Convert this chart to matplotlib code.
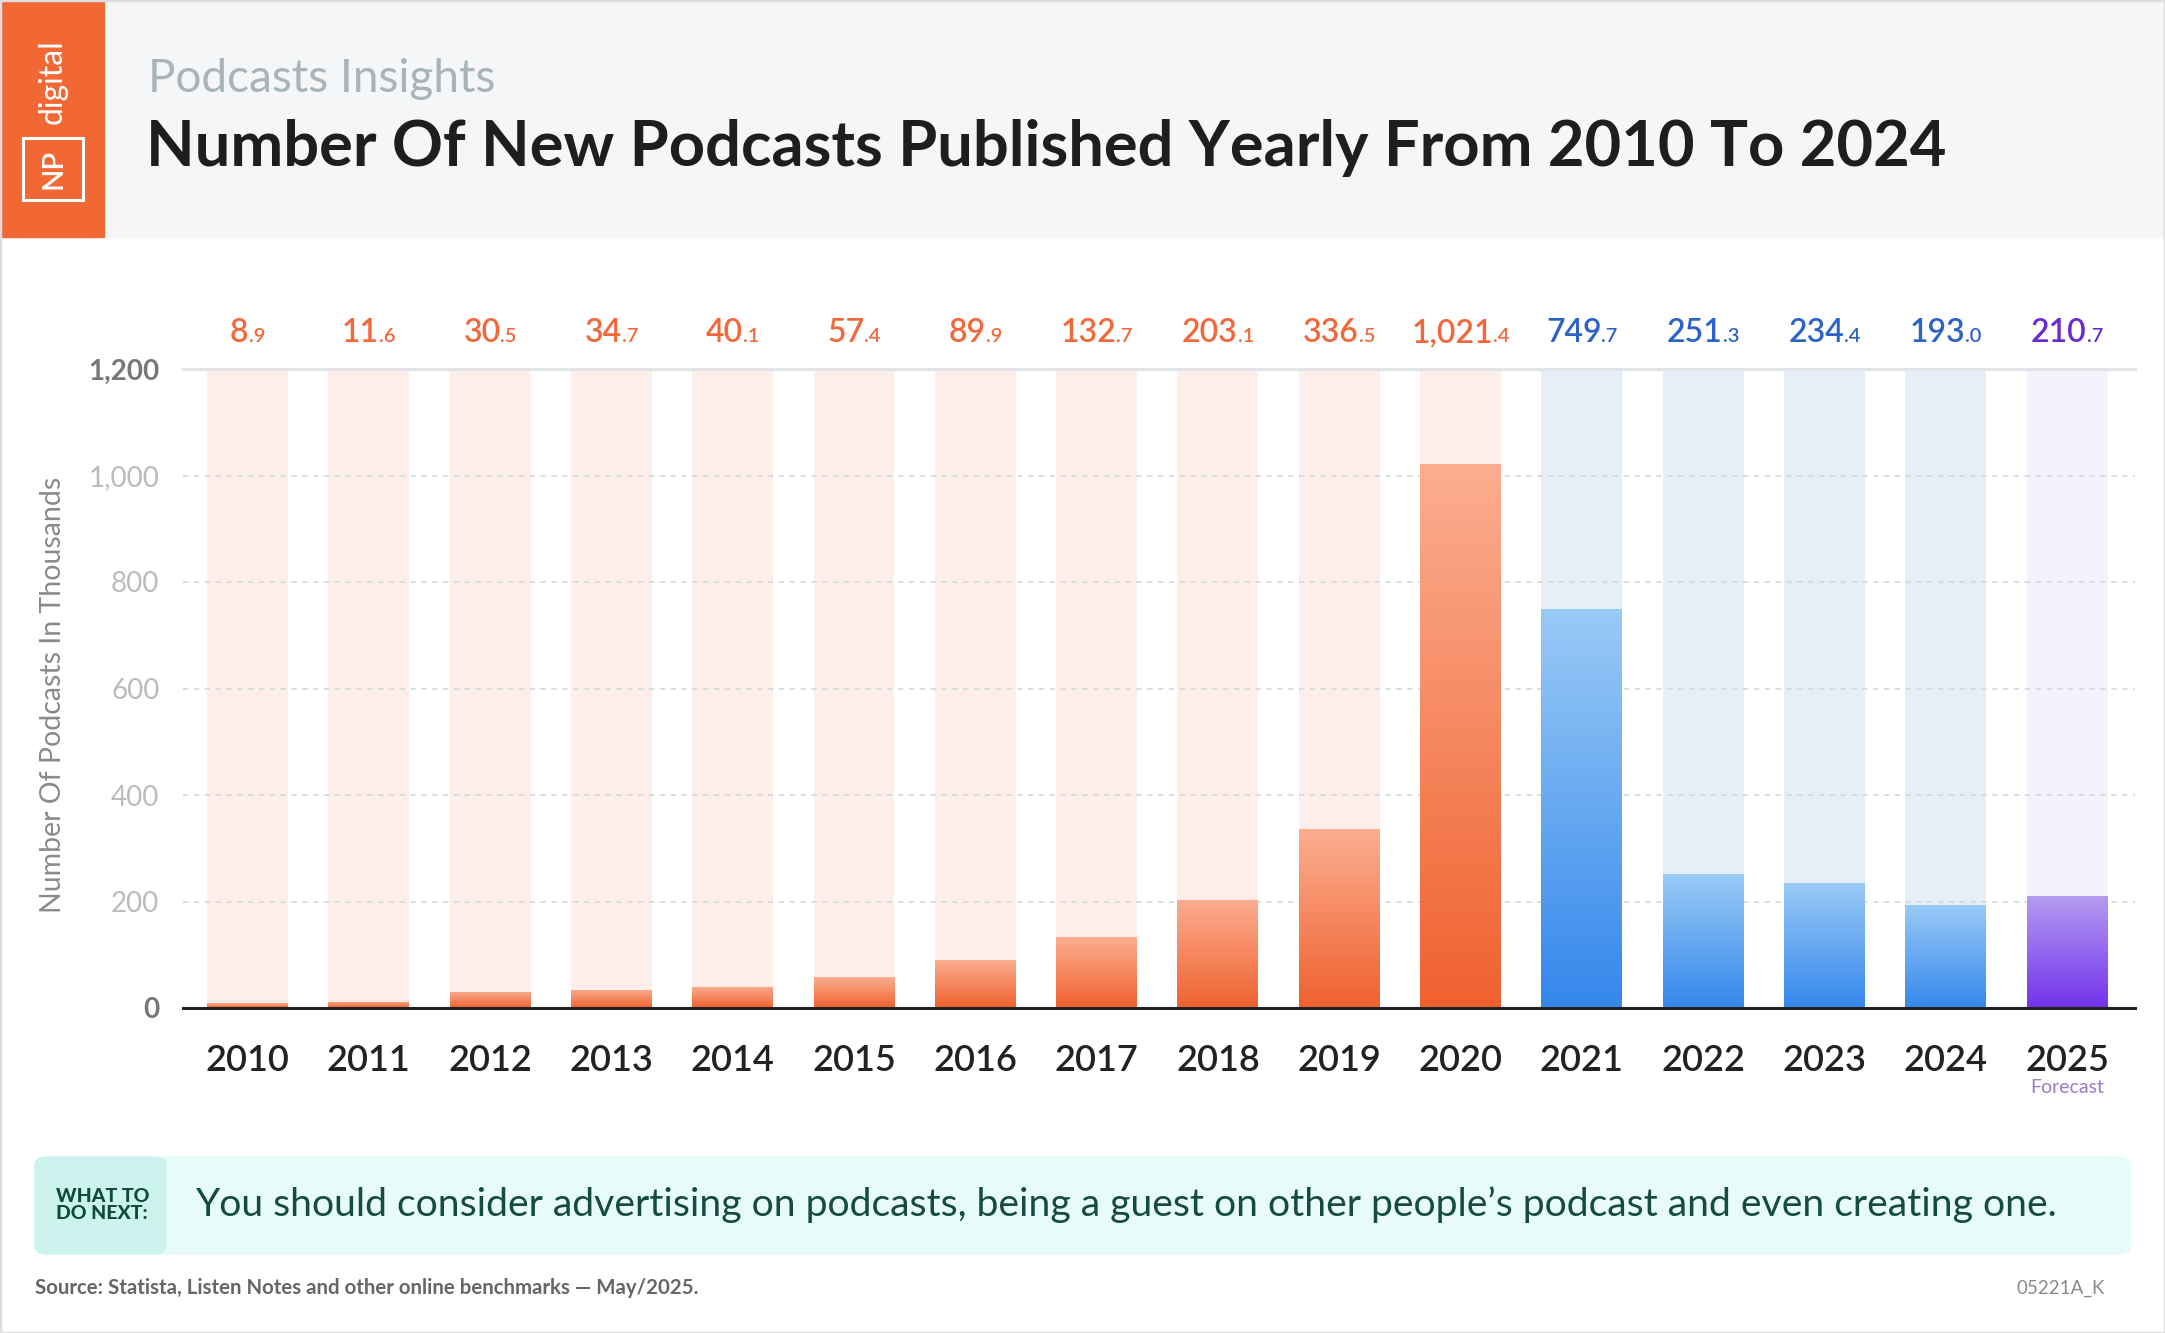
import numpy as np
import matplotlib
matplotlib.use("Agg")
import matplotlib.pyplot as plt
from matplotlib.patches import Rectangle, FancyBboxPatch
from matplotlib.colors import to_rgb
import matplotlib.transforms as mtransforms

plt.rcParams['font.family'] = ['Lato', 'DejaVu Sans']

# data
years = ['2010', '2011', '2012', '2013', '2014', '2015', '2016', '2017',
         '2018', '2019', '2020', '2021', '2022', '2023', '2024', '2025']
podcasts = [8.9, 11.6, 30.5, 34.7, 40.1, 57.4, 89.9, 132.7,
            203.1, 336.5, 1021.4, 749.7, 251.3, 234.4, 193.0, 210.7]
group = ['o'] * 11 + ['b'] * 4 + ['p']
yticks = [0, 200, 400, 600, 800, 1000, 1200]

# colours per group: (background, gradient top, gradient bottom, label)
palette = {
    'o': ('#FDEEEA', '#FBAE90', '#F0612F', '#F2683A'),
    'b': ('#E6EEF8', '#9ACAF6', '#3487EC', '#2B63C8'),
    'p': ('#F4F2FD', '#B59CF1', '#7233EC', '#6A2BD2'),
}

W, H = 2165, 1333
fig = plt.figure(figsize=(W / 100, H / 100), dpi=100)
fig.patch.set_facecolor('white')


def fx(x):
    return x / W


def fy(y):
    return 1 - y / H


# header
fig.patches.append(Rectangle((0, fy(237)), 1, 237 / H, transform=fig.transFigure,
                             color='#F5F6F8', zorder=0))
fig.patches.append(Rectangle((0, fy(237)), fx(104), 237 / H, transform=fig.transFigure,
                             color='#F26835', zorder=1))
fig.patches.append(Rectangle((fx(23), fy(200)), fx(60), 62 / H, transform=fig.transFigure,
                             fill=False, ec='white', lw=2.2, zorder=2))
fig.text(fx(54), fy(169), 'NP', rotation=90, color='white', fontsize=21,
         ha='center', va='center', fontweight='semibold')
fig.text(fx(53), fy(82), 'digital', rotation=90, color='white', fontsize=23,
         ha='center', va='center')
fig.text(fx(148), fy(79), 'Podcasts Insights', color='#A9B4B8', fontsize=33,
         ha='left', va='center')
fig.text(fx(146), fy(148), 'Number Of New Podcasts Published Yearly From 2010 To 2024',
         color='#1E1E1E', fontsize=45.5, ha='left', va='center', fontweight='bold')

# chart
ax = fig.add_axes([fx(183), fy(1008), fx(2135 - 183), (1008 - 369) / H])
x = np.arange(len(years))
bw = 0.667
ymax = yticks[-1]

bg = [palette[g][0] for g in group]
ax.bar(x, [ymax] * len(x), width=bw, color=bg, zorder=1)

bars = ax.bar(x, podcasts, width=bw, color='none', zorder=3)
for b, g in zip(bars, group):
    top = np.array(to_rgb(palette[g][1]))
    bot = np.array(to_rgb(palette[g][2]))
    t = np.linspace(0, 1, 256)[:, None, None]
    grad = top * (1 - t) + bot * t
    x0 = b.get_x()
    im = ax.imshow(grad, extent=(x0, x0 + b.get_width(), 0, b.get_height()),
                   aspect='auto', origin='upper', zorder=3, interpolation='bilinear')
    im.set_clip_path(b)

ax.set_xlim(-0.532, 15.56)
ax.set_ylim(0, ymax)

for s in ['top', 'right', 'left']:
    ax.spines[s].set_visible(False)
ax.spines['bottom'].set_color('#222222')
ax.spines['bottom'].set_linewidth(2.2)
ax.spines['bottom'].set_zorder(5)

for v in yticks[1:-1]:
    ax.axhline(v, color='#D5DCDD', lw=1.3, ls=(0, (3, 3)), zorder=2)
ax.axhline(ymax, color='#E2E5E8', lw=2.2, zorder=2, clip_on=False)

ax.set_yticks(yticks)
ax.set_yticklabels([f'{v:,}' for v in yticks], fontsize=20)
ax.tick_params(axis='y', length=0, pad=17)
for lab, v in zip(ax.get_yticklabels(), yticks):
    if v in (0, ymax):
        lab.set_color('#777777')
        lab.set_fontweight('bold')
    else:
        lab.set_color('#BBBBBB')

ax.set_xticks(x)
ax.set_xticklabels(years, fontsize=26, color='#222222', fontweight='semibold')
ax.tick_params(axis='x', length=0, pad=26)
ax.text(x[-1], -0.124, 'Forecast', transform=ax.get_xaxis_transform(),
        ha='center', va='center', fontsize=14, color='#9B7CC6')

ax.set_ylabel('Number Of Podcasts In Thousands', fontsize=20.5, color='#8A8A8A',
              va='center')
ax.yaxis.set_label_coords(-0.0665, 0.49)

# value labels: whole part large, decimal part small
renderer = fig.canvas.get_renderer()
base = ax.get_xaxis_transform()
for xi, v, g in zip(x, podcasts, group):
    whole, dec = f'{v:,.1f}'.split('.')
    c = palette[g][3]
    t1 = ax.text(xi, 1.042, whole, transform=base, ha='left', va='baseline',
                 fontsize=23, color=c, fontweight='semibold')
    t2 = ax.text(xi, 1.042, '.' + dec, transform=base, ha='left', va='baseline',
                 fontsize=14.5, color=c, fontweight='semibold')
    w1 = t1.get_window_extent(renderer).width
    w2 = t2.get_window_extent(renderer).width
    t1.set_transform(mtransforms.offset_copy(base, fig, x=-(w1 + w2) / 2, units='dots'))
    t2.set_transform(mtransforms.offset_copy(base, fig, x=-(w1 + w2) / 2 + w1, units='dots'))

# what to do next box
fig.patches.append(FancyBboxPatch((fx(35), fy(1254)), fx(2130 - 35), (1254 - 1157) / H,
                                  boxstyle='round,pad=0,rounding_size=0.006',
                                  transform=fig.transFigure, color='#E7FBF8', zorder=0))
fig.patches.append(FancyBboxPatch((fx(35), fy(1254)), fx(166 - 35), (1254 - 1157) / H,
                                  boxstyle='round,pad=0,rounding_size=0.006',
                                  transform=fig.transFigure, color='#CDF3EE', zorder=1))
fig.text(fx(56), fy(1205), 'WHAT TO\nDO NEXT:', fontsize=14, fontweight='black',
         color='#0F4B3B', ha='left', va='center', linespacing=0.95)
fig.text(fx(195), fy(1205),
         'You should consider advertising on podcasts, being a guest on other people\u2019s podcast and even creating one.',
         fontsize=28.2, color='#164C3E', ha='left', va='center')

fig.text(fx(35), fy(1288), 'Source: Statista, Listen Notes and other online benchmarks \u2014 May/2025.',
         fontsize=14.7, color='#666666', ha='left', va='center', fontweight='bold')
fig.text(fx(2105), fy(1288), '05221A_K', fontsize=13.5, color='#8A8A8A', ha='right', va='center')

fig.patches.append(Rectangle((0, 0), 1, 1, transform=fig.transFigure, fill=False,
                             ec='#DDDDDD', lw=2.5, zorder=10))

fig.savefig('out.png', dpi=100, facecolor='white')
